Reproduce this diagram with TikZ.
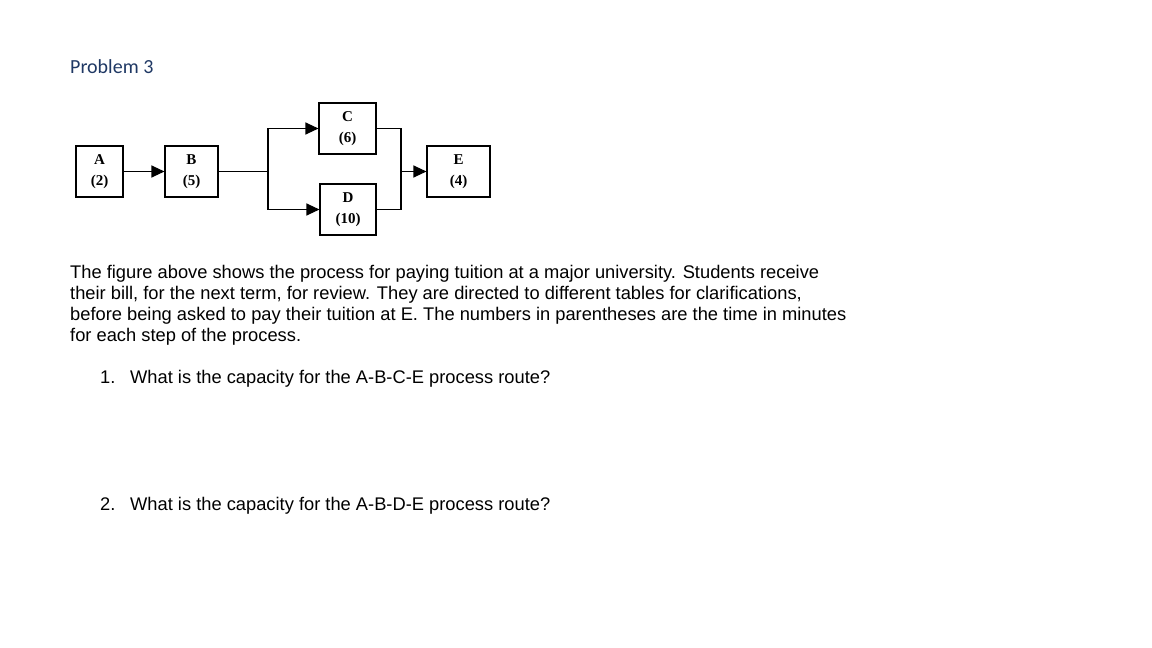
\documentclass[tikz,border=0pt]{standalone}
\usepackage{fontspec}
\setmainfont{Liberation Sans}
\newfontfamily\tnr{Liberation Serif}
\newfontfamily\calfont{Carlito}
\usetikzlibrary{arrows.meta}
\definecolor{navy}{RGB}{31,56,100}
\begin{document}
\begin{tikzpicture}[x=1pt,y=-1pt,
  box/.style={draw,line width=1.1pt,minimum width=#1,minimum height=51pt,inner sep=0pt,align=center,font=\tnr\bfseries\fontsize{15}{21}\selectfont},
  box/.default=52pt,
  conn/.style={line width=1.1pt},
  arr/.style={conn,-{Triangle[length=13pt,width=12pt]}},
  txt/.style={anchor=base west,inner sep=0pt,font=\fontsize{18.3}{20}\selectfont}]
\useasboundingbox (0,0) rectangle (1152,648);
\node[anchor=base west,inner sep=0pt,text=navy,font=\calfont\fontsize{20}{22}\selectfont] (title) at (70,73) {Problem 3};
\node[box=47pt] (A) at (99.5,171.5) {A\\(2)};
\node[box=53pt] (B) at (191.5,171.5) {B\\(5)};
\node[box=57pt] (C) at (347.5,128.5) {C\\(6)};
\node[box=56pt] (D) at (348,209.5) {D\\(10)};
\node[box=63pt] (E) at (458.5,171.5) {E\\(4)};
\coordinate (j1) at (268,171.5);
\coordinate (j2) at (401,171.5);
\draw[arr] (A) -- (B);
\draw[conn] (B) -- (j1);
\draw[arr] (j1) |- (C.west);
\draw[arr] (j1) |- (D.west);
\draw[conn] (C.east) -| (j2);
\draw[conn] (D.east) -| (j2);
\draw[arr] (j2) -- (E);
\node[txt] (l1) at (70,278) {The figure above shows the process for paying tuition at a major university. Students receive};
\node[txt] (l2) at (70,299) {their bill, for the next term, for review. They are directed to different tables for clarifications,};
\node[txt] (l3) at (70,320) {before being asked to pay their tuition at E. The numbers in parentheses are the time in minutes};
\node[txt] (l4) at (70,341) {for each step of the process.};
\node[txt] (q1n) at (100,383) {1.};
\node[txt] (q1) at (130,383) {What is the capacity for the A-B-C-E process route?};
\node[txt] (q2n) at (100,510) {2.};
\node[txt] (q2) at (130,510) {What is the capacity for the A-B-D-E process route?};
\end{tikzpicture}
\end{document}
